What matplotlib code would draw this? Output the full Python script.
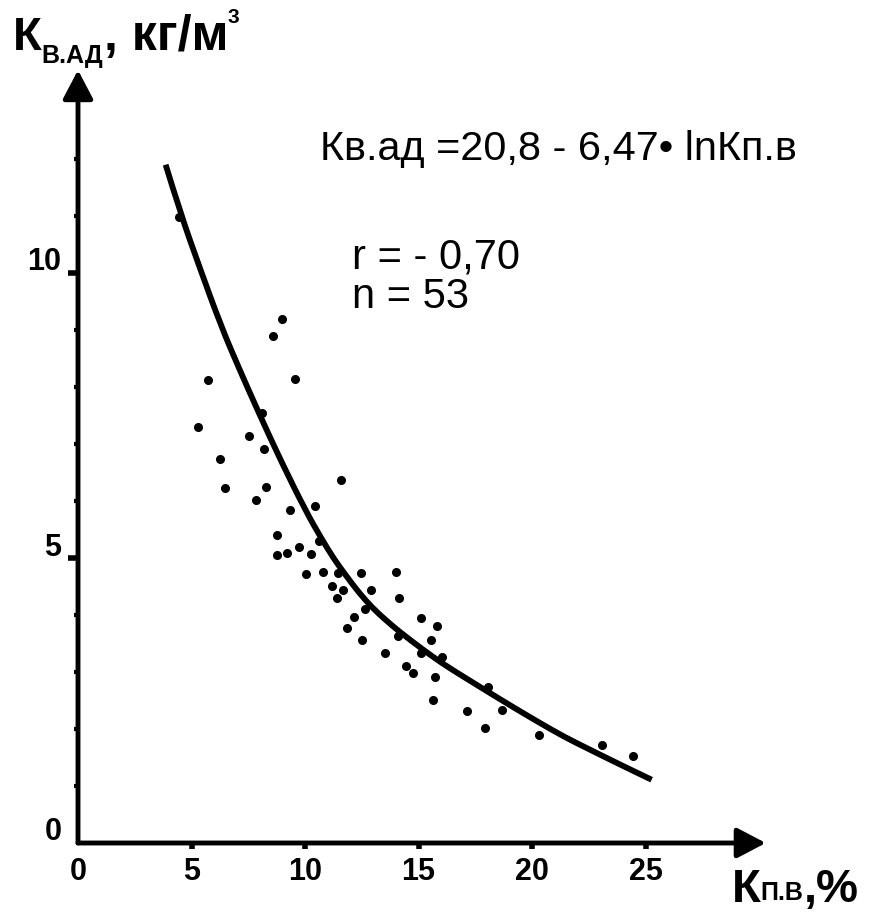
import matplotlib
matplotlib.use('Agg')
import matplotlib.pyplot as plt
from matplotlib.path import Path
from matplotlib.patches import PathPatch
from matplotlib.ticker import FixedLocator
from matplotlib.transforms import ScaledTranslation

FONT = ['Liberation Sans', 'DejaVu Sans']
plt.rcParams['font.family'] = FONT

# measured points: K_p.v (%) vs K_v.ad (kg/m3)
kpv = [8.98, 8.59, 5.72, 9.56, 8.10, 5.28, 7.53, 8.19, 6.25, 6.47,
       8.28, 7.84, 11.59, 9.34, 10.44, 8.76, 8.76, 9.21, 9.74, 10.26,
       10.62, 10.04, 10.79, 11.46, 11.19, 11.68, 11.41, 12.47, 12.91, 12.65,
       12.16, 11.85, 12.52, 14.02, 14.15, 13.53, 14.11, 15.12, 15.83, 15.56,
       15.12, 16.05, 14.46, 14.77, 15.74, 15.65, 17.15, 17.95, 18.04, 18.70,
       20.33, 23.07, 24.44, 4.44]
kvad = [9.20, 8.89, 8.12, 8.14, 7.54, 7.30, 7.14, 6.92, 6.74, 6.22,
        6.25, 6.01, 6.36, 5.84, 5.91, 5.40, 5.05, 5.09, 5.19, 5.07,
        5.30, 4.72, 4.76, 4.74, 4.51, 4.44, 4.30, 4.74, 4.43, 4.11,
        3.97, 3.78, 3.57, 4.76, 4.29, 3.33, 3.64, 3.95, 3.80, 3.57,
        3.34, 3.26, 3.10, 2.98, 2.91, 2.51, 2.32, 2.02, 2.74, 2.33,
        1.90, 1.72, 1.52, 10.99]

# regression curve as drawn in the figure
fit_x = [3.86, 4.53, 5.32, 6.29, 7.09, 7.97, 8.98, 10.04, 10.71, 11.28,
         11.81, 12.38, 12.96, 13.53, 14.15, 15.17, 16.05, 16.93, 17.99, 19.14,
         20.33, 21.43, 22.54, 23.86, 25.27]
fit_y = [11.90, 11.03, 10.14, 9.08, 8.33, 7.54, 6.67, 5.82, 5.35, 4.98,
         4.69, 4.39, 4.13, 3.92, 3.71, 3.40, 3.15, 2.93, 2.67, 2.39,
         2.11, 1.86, 1.64, 1.38, 1.11]

x_ticks = [0, 5, 10, 15, 20, 25]
y_ticks = [0, 5, 10]
y_minor = [1, 2, 3, 4, 6, 7, 8, 9, 11, 12]

W, H = 884, 915
fig = plt.figure(figsize=(W / 100, H / 100), dpi=100)
ax = fig.add_axes([78 / W, 72 / H, 703.7 / W, 798 / H])
ax.set_xlim(0, 31)
ax.set_ylim(0, 14)

# smooth the read curve points with quadratic bezier segments
pts = list(zip(fit_x, fit_y))
verts = [pts[0]]
codes = [Path.MOVETO]
for i in range(1, len(pts) - 1):
    mid = ((pts[i][0] + pts[i + 1][0]) / 2, (pts[i][1] + pts[i + 1][1]) / 2)
    verts += [pts[i], mid]
    codes += [Path.CURVE3, Path.CURVE3]
verts.append(pts[-1])
codes.append(Path.LINETO)
ax.add_patch(PathPatch(Path(verts, codes), fill=False, lw=4.2,
                       edgecolor='black', capstyle='butt'))

ax.plot(kpv, kvad, 'o', color='black', ms=5.5)

for s in ax.spines.values():
    s.set_visible(False)

# axes with arrow heads
arrow = dict(arrowstyle='-|>,head_length=0.8,head_width=0.42', lw=3.5,
             color='black', mutation_scale=22, shrinkA=0, shrinkB=0)
ax.annotate('', xy=(0, 13.56), xytext=(0, 0), arrowprops=arrow,
            annotation_clip=False)
ax.annotate('', xy=(30.3, 0), xytext=(0, 0), arrowprops=arrow,
            annotation_clip=False)

ax.set_xticks(x_ticks)
ax.set_xticklabels([str(v) for v in x_ticks])
ax.set_yticks(y_ticks)
ax.set_yticklabels([str(v) for v in y_ticks])
ax.yaxis.set_minor_locator(FixedLocator(y_minor))
ax.tick_params(axis='x', direction='out', length=4, width=4, pad=6,
               labelsize=22)
ax.tick_params(axis='y', which='major', direction='out', length=7, width=4,
               pad=5, labelsize=22)
ax.tick_params(axis='y', which='minor', direction='out', length=3, width=3)
ax.xaxis.get_major_ticks()[0].tick1line.set_visible(False)
ax.yaxis.get_major_ticks()[0].tick1line.set_visible(False)
for lab in ax.get_xticklabels() + ax.get_yticklabels():
    lab.set_fontweight('bold')
for lab in ax.get_yticklabels():
    lab.set_transform(lab.get_transform() +
                      ScaledTranslation(0, 0.14, fig.dpi_scale_trans))

renderer = fig.canvas.get_renderer()


def put_run(x, base, pieces, weight='bold'):
    # pieces: (text, fontsize, baseline shift in px, downwards)
    for s, size, dy in pieces:
        t = fig.text(x, H - (base + dy), s, transform=None, fontsize=size,
                     fontweight=weight, ha='left', va='baseline',
                     family=FONT)
        x = t.get_window_extent(renderer).x1


put_run(13, 50, [('К', 34, 0), ('В.АД', 18, 13), (', кг/м', 36, 0),
                 ('3', 15, -27)])
put_run(732, 902, [('К', 34, 0), ('П.В', 18, -2), (',%', 34, 0)])

put_run(320, 160, [('Кв.ад =20,8 - 6,47• lnКп.в', 29.8, 0)],
        weight='normal')
put_run(352, 268, [('r = - 0,70', 30, 0)], weight='normal')
put_run(352, 308, [('n = 53', 30, 0)], weight='normal')

fig.savefig('out.png', dpi=100)
